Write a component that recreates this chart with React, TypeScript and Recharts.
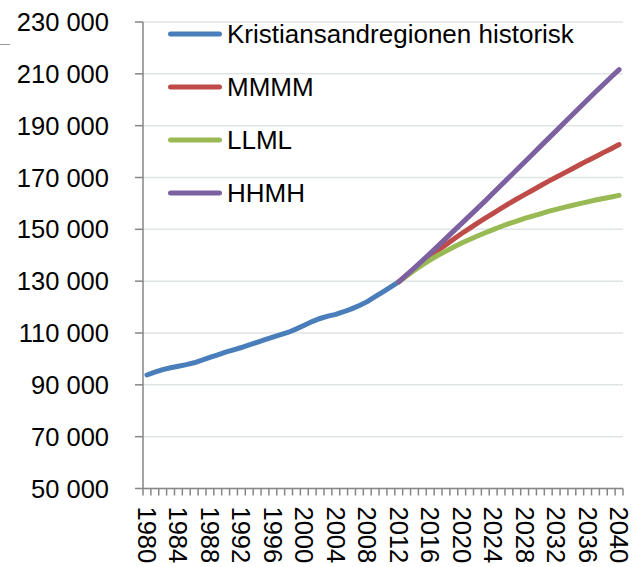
import React from 'react';
import { CartesianGrid, Legend, Line, LineChart, XAxis, YAxis } from 'recharts';

const years = [
  1980, 1981, 1982, 1983, 1984, 1985, 1986, 1987, 1988, 1989,
  1990, 1991, 1992, 1993, 1994, 1995, 1996, 1997, 1998, 1999,
  2000, 2001, 2002, 2003, 2004, 2005, 2006, 2007, 2008, 2009,
  2010, 2011, 2012, 2013, 2014, 2015, 2016, 2017, 2018, 2019,
  2020, 2021, 2022, 2023, 2024, 2025, 2026, 2027, 2028, 2029,
  2030, 2031, 2032, 2033, 2034, 2035, 2036, 2037, 2038, 2039, 2040,
];

// 1980-2012
const historisk = [
  93800, 94900, 95900, 96600, 97200, 97800, 98500, 99500, 100600, 101600,
  102600, 103500, 104400, 105400, 106400, 107400, 108400, 109400, 110300, 111600,
  113000, 114400, 115600, 116500, 117200, 118200, 119300, 120600, 122100, 124000,
  125900, 127800, 129700,
];

// 2012-2040
const mmmm = [
  129700, 132300, 134800, 137200, 139600, 141900, 144100, 146300, 148400, 150400,
  152400, 154300, 156200, 158100, 159900, 161700, 163400, 165100, 166800, 168500,
  170100, 171700, 173300, 174900, 176500, 178000, 179600, 181100, 182700,
];
const llml = [
  129700, 132000, 134200, 136300, 138200, 140000, 141600, 143200, 144700, 146100,
  147400, 148700, 149900, 151100, 152200, 153200, 154200, 155100, 156000, 156900,
  157700, 158500, 159200, 159900, 160600, 161300, 161900, 162500, 163100,
];
const hhmh = [
  129700, 132400, 135100, 137900, 140700, 143600, 146500, 149400, 152300, 155200,
  158100, 161000, 164000, 167000, 170000, 173000, 176000, 179000, 182000, 185000,
  188000, 191000, 194000, 197000, 200000, 203000, 205900, 208800, 211600,
];

const yTicks = [50000, 70000, 90000, 110000, 130000, 150000, 170000, 190000, 210000, 230000];

const series = [
  { key: 'historisk', name: 'Kristiansandregionen historisk', color: '#4a7ebb' },
  { key: 'MMMM', name: 'MMMM', color: '#be4b48' },
  { key: 'LLML', name: 'LLML', color: '#98b954' },
  { key: 'HHMH', name: 'HHMH', color: '#7d60a0' },
];

const PROJ_START = 2012;

const data = years.map((year, i) => ({
  year,
  historisk: i < historisk.length ? historisk[i] : null,
  MMMM: year >= PROJ_START ? mmmm[year - PROJ_START] : null,
  LLML: year >= PROJ_START ? llml[year - PROJ_START] : null,
  HHMH: year >= PROJ_START ? hhmh[year - PROJ_START] : null,
}));

// tick marks sit between the years, labels in the middle
const tickMarks = years.map(y => y - 0.5).concat(years[years.length - 1] + 0.5);

const W = 642;
const H = 567;
const LEFT = 143;
const RIGHT = 19;
const TOP = 22;
const X_AXIS_H = 78.5;
const STEP = (W - LEFT - RIGHT) / years.length;
const FONT = '"Liberation Sans", Arial, sans-serif';

const fmt = (v: number) => String(v).replace(/\B(?=(\d{3})+(?!\d))/g, ' ');

const YearTick = ({ x, y, payload }: { x: number; y: number; payload: { value: number } }) => {
  const year = payload.value + 0.5;
  if (year % 4 !== 0 || year > 2040) return <g />;
  return (
    <text
      x={0}
      y={0}
      transform={`translate(${x + STEP / 2},${y + 9}) rotate(90)`}
      textAnchor="start"
      dominantBaseline="central"
      fill="#000"
      style={{ fontSize: '25.5px', fontFamily: FONT }}
    >
      {year}
    </text>
  );
};

const LegendBox = () => (
  <div style={{ position: 'relative', width: 440, height: 200, fontFamily: FONT }}>
    {series.map((s, i) => (
      <div
        key={s.key}
        style={{ position: 'absolute', left: 0, top: i * 53, height: 32, display: 'flex', alignItems: 'center' }}
      >
        <svg width={58} height={8}>
          <line x1={4.5} y1={4} x2={53.5} y2={4} stroke={s.color} strokeWidth={5} strokeLinecap="round" />
        </svg>
        <span style={{ fontSize: '26px', marginLeft: 3, lineHeight: '32px', color: '#000', whiteSpace: 'nowrap' }}>
          {s.name}
        </span>
      </div>
    ))}
  </div>
);

export default function App() {
  return (
    <div style={{ position: 'absolute', left: 0, top: 0, width: W, height: H, background: '#fff', fontFamily: FONT }}>
      <div style={{ position: 'absolute', left: 0, top: 44, width: 10, height: 1, background: '#9a9a9a' }} />
      <LineChart width={W} height={H} data={data} margin={{ top: TOP, right: RIGHT, left: 0, bottom: 0 }}>
        <CartesianGrid stroke="#dfe5e5" strokeWidth={1.5} vertical={false} />
        <XAxis
          dataKey="year"
          type="number"
          domain={[tickMarks[0], tickMarks[tickMarks.length - 1]]}
          ticks={tickMarks}
          interval={0}
          height={X_AXIS_H}
          tickSize={7}
          stroke="#868686"
          strokeWidth={1.5}
          tick={YearTick}
        />
        <YAxis
          type="number"
          domain={[50000, 230000]}
          ticks={yTicks}
          interval={0}
          width={LEFT}
          tickSize={8}
          tickMargin={26}
          tickFormatter={fmt}
          stroke="#868686"
          strokeWidth={1.5}
          tick={{ fill: '#000', fontSize: '25.5px', fontFamily: FONT }}
        />
        <Legend
          layout="vertical"
          align="center"
          verticalAlign="middle"
          content={() => <LegendBox />}
          wrapperStyle={{ left: 166, top: 18, width: 440, height: 200 }}
        />
        {series.map(s => (
          <Line
            key={s.key}
            dataKey={s.key}
            name={s.name}
            type="linear"
            stroke={s.color}
            strokeWidth={5}
            strokeLinecap="round"
            dot={false}
            activeDot={false}
            connectNulls={false}
            isAnimationActive={false}
          />
        ))}
      </LineChart>
    </div>
  );
}
